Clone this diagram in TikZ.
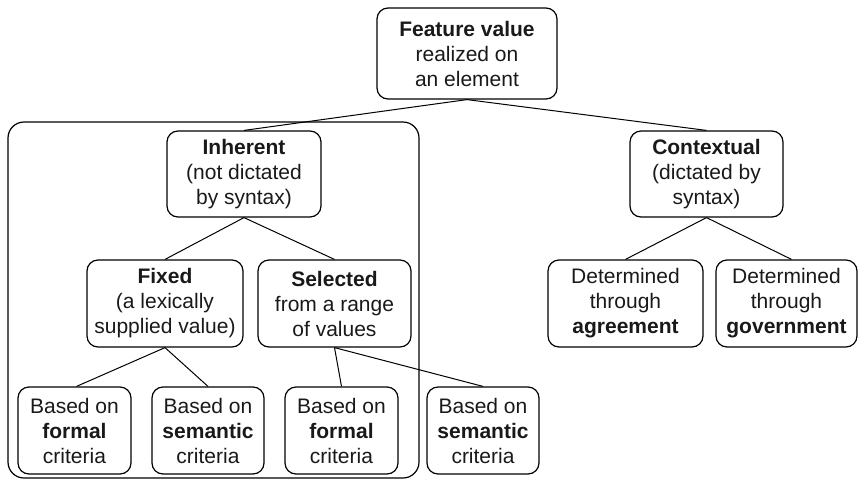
\documentclass[tikz,border=0pt]{standalone}
\usepackage{fontspec}
\setmainfont{Liberation Sans}
\begin{document}
\begin{tikzpicture}[x=1pt,y=-1pt,
  box/.style={draw, line width=1.2pt, rounded corners=11pt, align=center,
    inner sep=0pt, font=\fontsize{21}{25}\selectfont, text=black!90},
  link/.style={line width=1pt}]
\useasboundingbox (0,0) rectangle (859,480);

% frame around the inherent branch
\draw[line width=1.2pt, rounded corners=16pt] (8,122) rectangle (419,478);

\node[box, minimum width=180pt, minimum height=91pt] (top) at (467,53.5)
  {\textbf{Feature value}\\realized on\\an element};

\node[box, minimum width=154pt, minimum height=86pt] (inh) at (244,174)
  {\textbf{Inherent}\\(not dictated\\by syntax)};
\node[box, minimum width=153pt, minimum height=86pt] (ctx) at (706.5,174)
  {\textbf{Contextual}\\(dictated by\\syntax)};

\node[box, minimum width=156pt, minimum height=87pt] (fix) at (165,303.5)
  {\textbf{Fixed}\\(a lexically\\supplied value)};
\node[box, minimum width=153pt, minimum height=87pt] (sel) at (334.5,303.5)
  {\textbf{Selected}\\from a range\\of values};
\node[box, minimum width=155pt, minimum height=87pt] (agr) at (625.5,303.5)
  {Determined\\through\\\textbf{agreement}};
\node[box, minimum width=141pt, minimum height=87pt] (gov) at (786.5,303.5)
  {Determined\\through\\\textbf{government}};

\node[box, minimum width=113pt, minimum height=87pt] (fform) at (74.5,430.5)
  {Based on\\\textbf{formal}\\criteria};
\node[box, minimum width=112pt, minimum height=87pt] (fsem) at (208,430.5)
  {Based on\\\textbf{semantic}\\criteria};
\node[box, minimum width=113pt, minimum height=87pt] (sform) at (341.5,430.5)
  {Based on\\\textbf{formal}\\criteria};
\node[box, minimum width=112pt, minimum height=87pt] (ssem) at (483,430.5)
  {Based on\\\textbf{semantic}\\criteria};

\draw[link] (top.south) -- (inh.north);
\draw[link] (top.south) -- (ctx.north);
\draw[link] (inh.south) -- (fix.north);
\draw[link] (inh.south) -- (sel.north);
\draw[link] (ctx.south) -- (agr.north);
\draw[link] (ctx.south) -- ([xshift=5pt]gov.north);
\draw[link] (fix.south) -- ([xshift=2pt]fform.north);
\draw[link] (fix.south) -- (fsem.north);
\draw[link] (sel.south) -- (sform.north);
\draw[link] (sel.south) -- (ssem.north);
\end{tikzpicture}
\end{document}
